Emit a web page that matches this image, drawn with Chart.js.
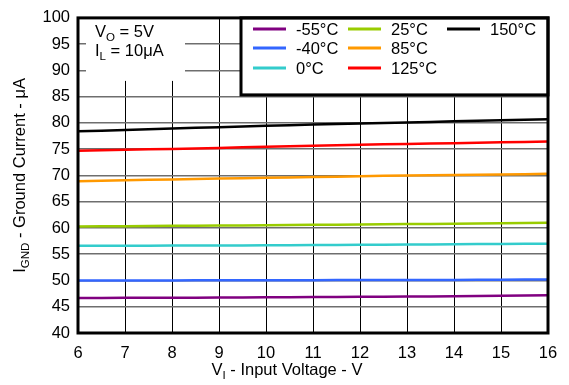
<!DOCTYPE html>
<html>
<head>
<meta charset="utf-8">
<script src="https://cdn.jsdelivr.net/npm/chart.js@4.4.0/dist/chart.umd.min.js"></script>
<style>
  html, body { margin: 0; padding: 0; background: #fff; }
  #wrap { width: 569px; height: 385px; }
</style>
</head>
<body>
<div id="wrap"><canvas id="gndChart" width="569" height="385"></canvas></div>
<script>
// Input voltage (V)
const voltages = [6, 7, 8, 9, 10, 11, 12, 13, 14, 15, 16];

// Ground current (uA) per temperature
const tempLabels = ['-55°C', '-40°C', '0°C', '25°C', '85°C', '125°C', '150°C'];
const tempColors = ['#800080', '#3366ff', '#33cccc', '#99cc00', '#ff9900', '#ff0000', '#000000'];
const cur_m55 = [46.65, 46.7, 46.7, 46.75, 46.8, 46.85, 46.9, 46.95, 47.0, 47.1, 47.2];
const cur_m40 = [50.0, 50.0, 50.0, 50.05, 50.05, 50.05, 50.1, 50.1, 50.1, 50.15, 50.2];
const cur_0 = [56.6, 56.6, 56.65, 56.65, 56.7, 56.75, 56.8, 56.85, 56.9, 56.95, 57.0];
const cur_25 = [60.3, 60.35, 60.4, 60.45, 60.5, 60.6, 60.65, 60.75, 60.8, 60.9, 61.0];
const cur_85 = [68.9, 69.1, 69.25, 69.4, 69.55, 69.7, 69.85, 70.0, 70.1, 70.2, 70.3];
const cur_125 = [74.7, 74.9, 75.05, 75.25, 75.45, 75.65, 75.85, 76.0, 76.15, 76.3, 76.45];
const cur_150 = [78.4, 78.65, 78.95, 79.2, 79.45, 79.7, 79.9, 80.1, 80.3, 80.5, 80.7];
const allSeries = [cur_m55, cur_m40, cur_0, cur_25, cur_85, cur_125, cur_150];

const FONT = '"Liberation Sans", Arial, sans-serif';
const FSIZE = 16.5;

// draw text runs, some as subscripts
function drawRuns(ctx, runs, x, y, size, align) {
    let total = 0;
    runs.forEach(r => {
        ctx.font = (r.sub ? size * 0.7 : size) + 'px ' + FONT;
        r.w = ctx.measureText(r.t).width;
        total += r.w;
    });
    let cx = align === 'center' ? x - total / 2 : x;
    ctx.textAlign = 'left';
    ctx.textBaseline = 'alphabetic';
    runs.forEach(r => {
        ctx.font = (r.sub ? size * 0.7 : size) + 'px ' + FONT;
        ctx.fillText(r.t, cx, r.sub ? y + size * 0.25 : y);
        cx += r.w;
    });
}

const decorPlugin = {
    id: 'decor',
    afterDatasetsDraw(chart) {
        const ctx = chart.ctx;
        const a = chart.chartArea;
        ctx.save();

        // annotation box
        ctx.fillStyle = '#fff';
        ctx.fillRect(86, a.top + 1, 99, 62);
        ctx.fillStyle = '#000';
        drawRuns(ctx, [{t: 'V'}, {t: 'O', sub: true}, {t: ' = 5V'}], 95, 37, FSIZE);
        drawRuns(ctx, [{t: 'I'}, {t: 'L', sub: true}, {t: ' = 10\u03bcA'}], 95, 56, FSIZE);

        // legend box
        ctx.fillStyle = '#fff';
        ctx.fillRect(241, a.top, a.right - 241, 77);
        ctx.strokeStyle = '#000';
        ctx.lineWidth = 3;
        ctx.strokeRect(241, a.top, a.right - 241, 77);
        const colX = [253, 348, 447];
        const rowY = [29, 48, 68];
        ctx.font = FSIZE + 'px ' + FONT;
        ctx.textBaseline = 'middle';
        ctx.textAlign = 'left';
        chart.data.datasets.forEach((ds, i) => {
            const col = Math.floor(i / 3), row = i % 3;
            const lx = colX[col], ly = rowY[row];
            ctx.strokeStyle = ds.borderColor;
            ctx.lineWidth = 3;
            ctx.beginPath();
            ctx.moveTo(lx, ly);
            ctx.lineTo(lx + 33, ly);
            ctx.stroke();
            ctx.fillStyle = '#000';
            ctx.fillText(ds.label, lx + 43, ly + 1);
        });

        // frame
        ctx.strokeStyle = '#000';
        ctx.lineWidth = 3;
        ctx.strokeRect(a.left, a.top, a.right - a.left, a.bottom - a.top);

        // axis titles
        ctx.fillStyle = '#000';
        drawRuns(ctx, [{t: 'V'}, {t: 'I', sub: true}, {t: ' - Input Voltage - V'}], 287, 375, FSIZE, 'center');
        ctx.translate(25, (a.top + a.bottom) / 2);
        ctx.rotate(-Math.PI / 2);
        drawRuns(ctx, [{t: 'I'}, {t: 'GND', sub: true}, {t: ' - Ground Current - \u03bcA'}], 0, 0, FSIZE, 'center');
        ctx.restore();
    }
};

document.addEventListener('DOMContentLoaded', function() {
    const ctx = document.getElementById('gndChart').getContext('2d');

    new Chart(ctx, {
        type: 'line',
        data: {
            datasets: allSeries.map((vals, i) => ({
                label: tempLabels[i],
                data: vals.map((v, j) => ({x: voltages[j], y: v})),
                borderColor: tempColors[i],
                borderWidth: 2.5,
                pointRadius: 0,
                tension: 0.3,
                fill: false
            }))
        },
        options: {
            responsive: false,
            animation: false,
            layout: {
                padding: {left: 0, top: 10, right: 21, bottom: 0}
            },
            plugins: {
                legend: {display: false},
                tooltip: {enabled: false}
            },
            scales: {
                x: {
                    type: 'linear',
                    min: 6,
                    max: 16,
                    ticks: {
                        stepSize: 1,
                        color: '#000',
                        font: {family: FONT, size: FSIZE},
                        padding: 11
                    },
                    grid: {color: '#000', lineWidth: 1, drawTicks: false},
                    border: {display: false},
                    afterFit: function(scale) { scale.height = 52; }
                },
                y: {
                    min: 40,
                    max: 100,
                    ticks: {
                        stepSize: 5,
                        color: '#000',
                        font: {family: FONT, size: FSIZE},
                        padding: 8
                    },
                    grid: {color: '#6e6e6e', lineWidth: 1.5, drawTicks: false},
                    border: {display: false},
                    afterFit: function(scale) { scale.width = 78; }
                }
            }
        },
        plugins: [decorPlugin]
    });
});
</script>
</body>
</html>
